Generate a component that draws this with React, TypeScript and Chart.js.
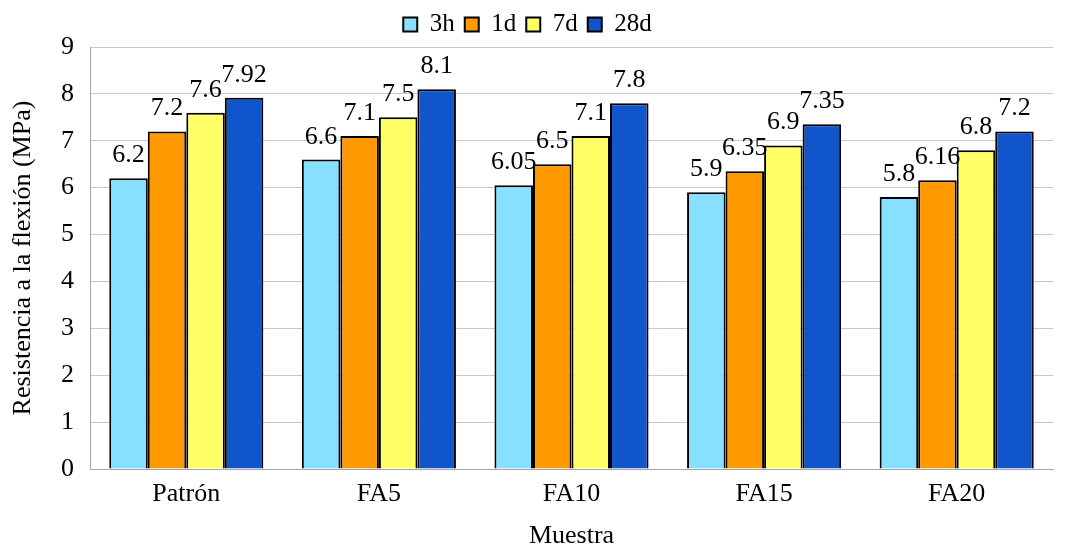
import React, { useEffect, useRef } from "react";
import { Chart, registerables } from "chart.js";

Chart.register(...registerables);

const categories = ["Patrón", "FA5", "FA10", "FA15", "FA20"];
const seriesNames = ["3h", "1d", "7d", "28d"];
const values3h = [6.2, 6.6, 6.05, 5.9, 5.8];
const values1d = [7.2, 7.1, 6.5, 6.35, 6.16];
const values7d = [7.6, 7.5, 7.1, 6.9, 6.8];
const values28d = [7.92, 8.1, 7.8, 7.35, 7.2];
const seriesColors = ["#87E0FF", "#FF9900", "#FFFF66", "#1155CC"];

const FONT = "'Liberation Serif', 'Times New Roman', serif";

// Writes each bar's value just above its top edge
const valueLabels = {
  id: "valueLabels",
  afterDatasetsDraw(chart: any) {
    const ctx = chart.ctx;
    ctx.save();
    ctx.font = `26px ${FONT}`;
    ctx.fillStyle = "#000";
    ctx.textAlign = "center";
    ctx.textBaseline = "alphabetic";
    chart.data.datasets.forEach((ds: any, i: number) => {
      const meta = chart.getDatasetMeta(i);
      meta.data.forEach((bar: any, j: number) => {
        ctx.fillText(String(ds.data[j]), bar.x, bar.y - 16);
      });
    });
    ctx.restore();
  },
};

export default function App() {
  const canvasRef = useRef<HTMLCanvasElement | null>(null);

  useEffect(() => {
    if (!canvasRef.current) return;
    const all = [values3h, values1d, values7d, values28d];
    const chart = new Chart(canvasRef.current, {
      type: "bar",
      data: {
        labels: categories,
        datasets: seriesNames.map((name, i) => ({
          label: name,
          data: all[i],
          backgroundColor: seriesColors[i],
          borderColor: "#000",
          borderWidth: 2,
          inflateAmount: 0,
          barPercentage: 1,
          categoryPercentage: 0.8,
        })),
      },
      options: {
        animation: false,
        responsive: false,
        layout: { padding: { top: 2, right: 12, left: 2, bottom: 0 } },
        plugins: {
          legend: {
            position: "top",
            labels: {
              boxWidth: 14,
              boxHeight: 14,
              padding: 10,
              color: "#000",
              font: { family: FONT, size: 25 },
            },
          },
          tooltip: { enabled: false },
        },
        scales: {
          x: {
            afterFit(scale: any) {
              scale.height = 78;
            },
            grid: { display: false },
            border: { display: true, color: "#A6A6A6", width: 1 },
            ticks: { color: "#000", font: { family: FONT, size: 26 }, padding: 2 },
            title: {
              display: true,
              text: "Muestra",
              color: "#000",
              font: { family: FONT, size: 26, lineHeight: 0.8 },
              padding: { top: 0, bottom: 0 },
            },
          },
          y: {
            min: 0,
            max: 9,
            afterFit(scale: any) {
              scale.width = 88;
            },
            ticks: { stepSize: 1, color: "#000", font: { family: FONT, size: 26 }, padding: 16 },
            grid: { color: "#C8C8C8", lineWidth: 1, drawTicks: false },
            border: { display: true, color: "#A6A6A6", width: 1 },
            title: {
              display: true,
              text: "Resistencia a la flexión (MPa)",
              color: "#000",
              font: { family: FONT, size: 26, lineHeight: 1.2 },
              padding: { top: 6, bottom: 0 },
            },
          },
        },
      },
      plugins: [valueLabels],
    });
    return () => chart.destroy();
  }, []);

  return (
    <div style={{ position: "absolute", left: 0, top: 0, width: 1065, height: 547, background: "#fff" }}>
      <canvas ref={canvasRef} width={1065} height={547} />
    </div>
  );
}
